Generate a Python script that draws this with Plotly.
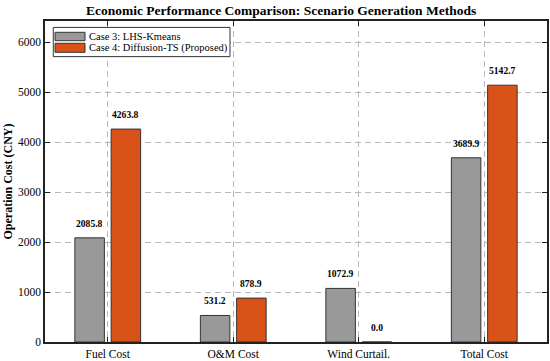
import plotly.graph_objects as go

categories = ["Fuel Cost", "O&M Cost", "Wind Curtail.", "Total Cost"]
case3_values = [2085.8, 531.2, 1072.9, 3689.9]
case4_values = [4263.8, 878.9, 0.0, 5142.7]
series_names = ["Case 3: LHS-Kmeans", "Case 4: Diffusion-TS (Proposed)"]
y_ticks = [0, 1000, 2000, 3000, 4000, 5000, 6000]

FONT = "Liberation Serif, Times New Roman, serif"
colors = ["#999999", "#D95319"]
edge = "#333333"
bar_w = 0.235
offsets = [-0.262, 0.027]

fig = go.Figure()
idx = list(range(len(categories)))
for vals, name, col, off in zip([case3_values, case4_values], series_names, colors, offsets):
    fig.add_trace(go.Bar(
        x=idx, y=vals, name=name, width=bar_w, offset=off,
        marker=dict(color=col, line=dict(color=edge, width=1)),
        showlegend=False,
    ))
    for i, v in enumerate(vals):
        fig.add_annotation(
            x=i + off + bar_w / 2, y=v, text=f"<b>{v:.1f}</b>",
            showarrow=False, yanchor="bottom", yshift=7,
            font=dict(family=FONT, size=9.6, color="black"),
        )

# legend box (drawn in plot-area paper coordinates)
fig.add_shape(type="rect", xref="paper", yref="paper",
              x0=0.0165, x1=0.3685, y0=0.889, y1=0.980,
              fillcolor="white", line=dict(color="#333333", width=1), layer="above")
leg_rows = [(0.9386, 0.9648), (0.9025, 0.9305)]
for (y0, y1), name, col in zip(leg_rows, series_names, colors):
    fig.add_shape(type="rect", xref="paper", yref="paper",
                  x0=0.020, x1=0.0797, y0=y0, y1=y1,
                  fillcolor=col, line=dict(color=edge, width=1), layer="above")
    fig.add_annotation(xref="paper", yref="paper", x=0.0843, y=(y0 + y1) / 2,
                       text=name, showarrow=False, xanchor="left", yanchor="middle",
                       font=dict(family=FONT, size=10.5, color="black"))

ymax = max(case3_values + case4_values) * 1.25

fig.update_layout(
    width=550, height=361,
    margin=dict(l=45, r=3, t=21, b=19),
    paper_bgcolor="white", plot_bgcolor="white",
    barmode="overlay",
    font=dict(family=FONT, size=11, color="black"),
    title=dict(text="<b>Economic Performance Comparison: Scenario Generation Methods</b>",
               x=0.511, xanchor="center", y=0.985, yanchor="top",
               font=dict(family=FONT, size=13.5, color="black")),
    showlegend=False,
)
fig.update_xaxes(
    tickmode="array", tickvals=idx, ticktext=categories,
    range=[-0.5, len(categories) - 0.5],
    showline=True, linecolor="#222222", linewidth=1.5, mirror="ticks",
    ticks="inside", ticklen=5, tickcolor="#222222",
    showgrid=True, gridcolor="#b8b8b8", griddash="6px,4px", gridwidth=1,
    zeroline=False, automargin=False,
    tickfont=dict(family=FONT, size=11.5),
)
fig.update_yaxes(
    range=[0, ymax], tickvals=y_ticks,
    showline=True, linecolor="#222222", linewidth=1.5, mirror="ticks",
    ticks="inside", ticklen=5, tickcolor="#222222",
    showgrid=True, gridcolor="#b8b8b8", griddash="6px,4px", gridwidth=1,
    zeroline=False, automargin=False,
    title=dict(text="<b>Operation Cost (CNY)</b>", standoff=3,
               font=dict(family=FONT, size=12)),
    tickfont=dict(family=FONT, size=11.5),
)

fig.write_html("out.html", config={"displayModeBar": False},
               post_script="document.body.style.margin='0';document.body.style.overflow='hidden';")
